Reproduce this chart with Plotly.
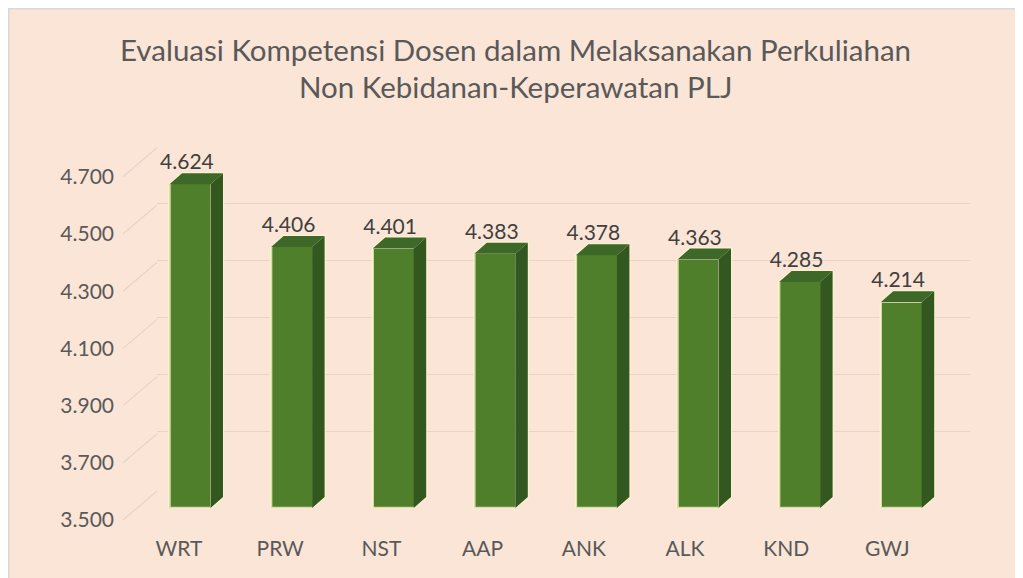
import plotly.graph_objects as go

# ---------------- data ----------------
categories = ["WRT", "PRW", "NST", "AAP", "ANK", "ALK", "KND", "GWJ"]
values = [4.624, 4.406, 4.401, 4.383, 4.378, 4.363, 4.285, 4.214]
y_ticks = [3.5, 3.7, 3.9, 4.1, 4.3, 4.5, 4.7]
y_tick_text = ["3.500", "3.700", "3.900", "4.100", "4.300", "4.500", "4.700"]
title_lines = ["Evaluasi Kompetensi Dosen dalam Melaksanakan Perkuliahan",
               "Non Kebidanan-Keperawatan PLJ"]

# ---------------- geometry / style ----------------
PAGE_W, PAGE_H = 1023, 578
OFF = 8                      # default body margin of the html page
W, H = PAGE_W - OFF, PAGE_H - OFF
def fx(px): return (px - OFF) / W
def fy(py): return 1 - (py - OFF) / H

VMIN = 3.5
VTOP = 4.9            # extended range so nothing gets clipped
FONT = "Lato"
AXIS_COL = "#595959"
LABEL_COL = "#404040"
BG = "#FBE5D6"
GRID = "#E9D3C4"
FRONT = "#4F7F2B"
SIDE = "#33581F"
TOP = "#3D6827"
GLOW = "rgba(250,245,205,0.8)"

n = len(categories)
idx = list(range(n))

# label plane (front of floor)
LBL_BASE, LBL_PPU = 518, 286
LBL_X0, LBL_STEP = 179, 101.2
# back wall
BW_BASE, BW_X0, BW_X1 = 489, 157, 970
# bars front plane
BAR_BASE, BAR_PPU = 508, 288
BAR_C0, BAR_STEP = 190, 101.6
BAR_W = 41 / BAR_STEP
DX = 12.5 / BAR_STEP
DY = 11 / BAR_PPU

fig = go.Figure()

# dummy trace for label axes (x, y)
fig.add_trace(go.Scatter(x=categories, y=values, mode="markers",
                         marker=dict(opacity=0), hoverinfo="skip",
                         showlegend=False, xaxis="x", yaxis="y"))
# dummy trace for back wall axes
fig.add_trace(go.Scatter(x=idx, y=values, mode="markers",
                         marker=dict(opacity=0), hoverinfo="skip",
                         showlegend=False, xaxis="x2", yaxis="y2"))

# outline glow (whole bar silhouette)
gx, gy = [], []
for i, v in zip(idx, values):
    xl, xr = i - BAR_W / 2, i + BAR_W / 2
    gx += [xl, xl, xl + DX, xr + DX, xr + DX, xr, xl, None]
    gy += [VMIN, v, v + DY, v + DY, VMIN + DY, VMIN, VMIN, None]
fig.add_trace(go.Scatter(x=gx, y=gy, mode="lines", line=dict(width=2.5, color=GLOW),
                         xaxis="x3", yaxis="y3", showlegend=False, hoverinfo="skip"))

# front faces
fig.add_trace(go.Bar(x=idx, y=values, width=BAR_W, marker=dict(color=FRONT, line=dict(width=0)),
                     xaxis="x3", yaxis="y3", showlegend=False, hoverinfo="skip"))

# side faces and top faces
sx, sy, tx, ty = [], [], [], []
for i, v in zip(idx, values):
    xl, xr = i - BAR_W / 2, i + BAR_W / 2
    sx += [xr, xr + DX, xr + DX, xr, xr, None]
    sy += [VMIN, VMIN + DY, v + DY, v, VMIN, None]
    tx += [xl, xl + DX, xr + DX, xr, xl, None]
    ty += [v, v + DY, v + DY, v, v, None]
fig.add_trace(go.Scatter(x=sx, y=sy, mode="lines", fill="toself", fillcolor=SIDE,
                         line=dict(width=0, color=SIDE), xaxis="x3", yaxis="y3",
                         showlegend=False, hoverinfo="skip"))
fig.add_trace(go.Scatter(x=tx, y=ty, mode="lines", fill="toself", fillcolor=TOP,
                         line=dict(width=0, color=TOP), xaxis="x3", yaxis="y3",
                         showlegend=False, hoverinfo="skip"))

# value labels
fig.add_trace(go.Scatter(x=[i - 0.03 for i in idx], y=[v + 0.07 for v in values],
                         mode="text", text=[f"{v:.3f}" for v in values],
                         textposition="middle center",
                         textfont=dict(family=FONT, size=21, color=LABEL_COL),
                         xaxis="x3", yaxis="y3", showlegend=False, hoverinfo="skip",
                         cliponaxis=False))

shapes = [
    # chart border (left and top edges visible)
    dict(type="line", xref="paper", yref="paper", x0=0.5 / W, y0=0, x1=0.5 / W, y1=1,
         line=dict(color="#D9D9D9", width=2)),
    dict(type="line", xref="paper", yref="paper", x0=0, y0=1 - 0.5 / H, x1=1, y1=1 - 0.5 / H,
         line=dict(color="#D9D9D9", width=2)),
]
# side-wall lines
for v in y_ticks:
    shapes.append(dict(type="line", xref="paper", yref="y",
                       x0=fx(123), y0=v, x1=fx(BW_X0), y1=v + (LBL_BASE - BW_BASE) / LBL_PPU,
                       line=dict(color=GRID, width=1.2), layer="below"))

annotations = []
for k, t in enumerate(title_lines):
    annotations.append(dict(text=t, xref="paper", yref="paper", x=fx(515), y=fy(49 + 38 * k),
                            xanchor="center", yanchor="middle", showarrow=False,
                            font=dict(family=FONT, size=29.5, color=AXIS_COL)))

lbl_x_left = LBL_X0 - 0.5 * LBL_STEP
bar_x_left = BAR_C0 - 0.5 * BAR_STEP

common = dict(automargin=False, zeroline=False, showline=False, ticks="")

fig.update_layout(
    width=W, height=H, margin=dict(l=0, r=0, t=0, b=0, autoexpand=False),
    paper_bgcolor=BG, plot_bgcolor="rgba(0,0,0,0)",
    showlegend=False, bargap=0,
    shapes=shapes, annotations=annotations,
    xaxis=dict(domain=[fx(lbl_x_left), fx(lbl_x_left + n * LBL_STEP)],
               type="category", range=[-0.5, n - 0.5],
               anchor="free", position=fy(534), showgrid=False,
               tickfont=dict(family=FONT, size=21, color=AXIS_COL), **common),
    yaxis=dict(domain=[fy(LBL_BASE + 2), fy(LBL_BASE + 2 - (VTOP - VMIN) * LBL_PPU)],
               range=[VMIN, VTOP], tickvals=y_ticks, ticktext=y_tick_text,
               anchor="free", position=fx(114), showgrid=False,
               tickfont=dict(family=FONT, size=21, color=AXIS_COL), **common),
    xaxis2=dict(domain=[fx(BW_X0), fx(BW_X1)], range=[-0.5, n - 0.5], anchor="y2",
                showticklabels=False, showgrid=False, **common),
    yaxis2=dict(domain=[fy(BW_BASE), fy(BW_BASE - (4.7 - VMIN) * LBL_PPU)],
                range=[VMIN, 4.7], tickvals=y_ticks, anchor="x2",
                showticklabels=False, showgrid=True, gridcolor=GRID, gridwidth=1.2, **common),
    xaxis3=dict(domain=[fx(bar_x_left), fx(bar_x_left + n * BAR_STEP)],
                range=[-0.5, n - 0.5], anchor="y3",
                showticklabels=False, showgrid=False, **common),
    yaxis3=dict(domain=[fy(BAR_BASE), fy(BAR_BASE - (VTOP - VMIN) * BAR_PPU)],
                range=[VMIN, VTOP], anchor="x3",
                showticklabels=False, showgrid=False, **common),
)

fig.write_html("out.html")
